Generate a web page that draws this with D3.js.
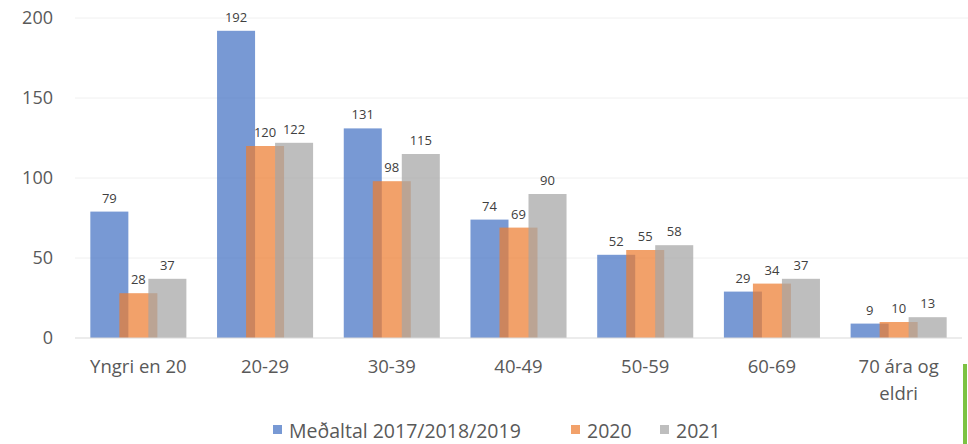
<!DOCTYPE html>
<html>
<head>
<meta charset="utf-8">
<script src="https://cdn.jsdelivr.net/npm/d3@7"></script>
<style>
  body { margin: 0; background: #fff; }
  svg { display: block; font-family: "Open Sans", Lato, sans-serif; }
</style>
</head>
<body>
<svg width="968" height="444"></svg>
<script>
const categories = ["Yngri en 20", "20-29", "30-39", "40-49", "50-59", "60-69", "70 ára og eldri"];
const seriesNames = ["Meðaltal 2017/2018/2019", "2020", "2021"];
const avg2017to2019 = [79, 192, 131, 74, 52, 29, 9];
const y2020 = [28, 120, 98, 69, 55, 34, 10];
const y2021 = [37, 122, 115, 90, 58, 37, 13];
const yTicks = [0, 50, 100, 150, 200];

const seriesValues = [avg2017to2019, y2020, y2021];
const colors = ["#4472C4", "#ED7D31", "#A5A5A5"];

const svg = d3.select("svg");
const plotLeft = 75, plotRight = 962, plotTop = 18, plotBottom = 338;

const x = d3.scaleBand().domain(categories).range([plotLeft, plotRight]).paddingInner(0.242).paddingOuter(0.121);
const y = d3.scaleLinear().domain([0, 200]).range([plotBottom, plotTop]);

// gridlines
svg.append("g")
  .selectAll("line")
  .data(yTicks.filter(d => d > 0))
  .join("line")
  .attr("x1", plotLeft).attr("x2", 968)
  .attr("y1", d => y(d)).attr("y2", d => y(d))
  .attr("stroke", "#f0f0f0").attr("stroke-width", 1);

// y axis labels
svg.append("g")
  .attr("transform", `translate(${plotLeft},0)`)
  .call(d3.axisLeft(y).tickValues(yTicks).tickSize(0).tickPadding(22))
  .call(g => g.select(".domain").remove())
  .call(g => g.selectAll("text")
    .attr("fill", "#595959")
    .style("font-size", "18px")
    .style("font-family", "'Open Sans', Lato, sans-serif"));

// bars: width and step inside each group
const barW = x.bandwidth() / (1 + 2 * 0.763);
const step = barW * 0.763;

const bars = [];
categories.forEach((c, i) => {
  seriesValues.forEach((vals, s) => {
    bars.push({ cat: c, s, v: vals[i] });
  });
});

svg.append("g")
  .selectAll("rect")
  .data(bars)
  .join("rect")
  .attr("x", d => x(d.cat) + d.s * step)
  .attr("y", d => y(d.v))
  .attr("width", barW)
  .attr("height", d => y(0) - y(d.v))
  .attr("fill", d => colors[d.s])
  .attr("fill-opacity", 0.72);

// baseline
svg.append("line")
  .attr("x1", plotLeft).attr("x2", plotRight)
  .attr("y1", y(0)).attr("y2", y(0))
  .attr("stroke", "#d9d9d9").attr("stroke-width", 1.2);

// data labels
svg.append("g")
  .selectAll("text")
  .data(bars)
  .join("text")
  .attr("x", d => x(d.cat) + d.s * step + barW / 2)
  .attr("y", d => y(d.v) - 9)
  .attr("text-anchor", "middle")
  .attr("fill", "#404040")
  .style("font-size", "13px")
  .text(d => d.v);

// category labels
const catG = svg.append("g");
categories.forEach(c => {
  const cx = x(c) + x.bandwidth() / 2;
  const lines = c === "70 ára og eldri" ? ["70 ára og", "eldri"] : [c];
  const t = catG.append("text")
    .attr("x", cx)
    .attr("y", 373)
    .attr("text-anchor", "middle")
    .attr("fill", "#595959")
    .style("font-size", "18.5px");
  lines.forEach((l, k) => {
    t.append("tspan").attr("x", cx).attr("dy", k === 0 ? 0 : 27).text(l);
  });
});

// legend
const legend = svg.append("g").attr("transform", "translate(273,0)");
const legendX = [0, 298, 387];
seriesNames.forEach((name, i) => {
  legend.append("rect")
    .attr("x", legendX[i]).attr("y", 425)
    .attr("width", 9).attr("height", 9)
    .attr("fill", colors[i]).attr("fill-opacity", 0.72);
  legend.append("text")
    .attr("x", legendX[i] + 16).attr("y", 438)
    .attr("fill", "#595959")
    .style("font-size", "19.5px")
    .text(name);
});

// green edge of the slide at the right
svg.append("rect")
  .attr("x", 963).attr("y", 364).attr("width", 4).attr("height", 80)
  .attr("fill", "#7DC242");
</script>
</body>
</html>
